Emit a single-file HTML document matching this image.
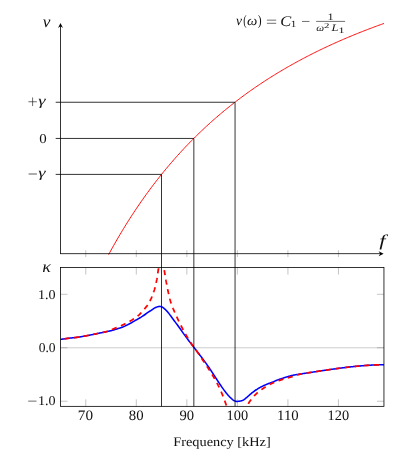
<!DOCTYPE html>
<html><head><meta charset="utf-8"><title>chart</title>
<style>
html,body{margin:0;padding:0;background:#fff;}
body{width:416px;height:462px;overflow:hidden;font-family:"Liberation Serif",serif;}
svg{display:block;}
text{font-family:"Liberation Serif",serif;fill:#111;}
</style></head><body>
<svg width="416" height="462" viewBox="0 0 416 462">
<rect width="416" height="462" fill="#fff"/>
<defs><clipPath id="cl"><rect x="60.5" y="267.55" width="323.45" height="138.8"/></clipPath></defs>

<!-- lower plot: grid, ticks -->
<path d="M60.5,347.77 H383.95" stroke="#bcbcbc" stroke-width="0.75" fill="none"/>
<g stroke="#808080" stroke-width="0.46" fill="none"><path d="M85.77,267.55 v7"/><path d="M85.77,406.35 v-7"/><path d="M136.31,267.55 v7"/><path d="M136.31,406.35 v-7"/><path d="M186.85,267.55 v7"/><path d="M186.85,406.35 v-7"/><path d="M237.39,267.55 v7"/><path d="M237.39,406.35 v-7"/><path d="M287.93,267.55 v7"/><path d="M287.93,406.35 v-7"/><path d="M338.46,267.55 v7"/><path d="M338.46,406.35 v-7"/><path d="M60.5,294.30 h7"/><path d="M383.95,294.30 h-7"/><path d="M60.5,347.77 h7"/><path d="M383.95,347.77 h-7"/><path d="M60.5,401.24 h7"/><path d="M383.95,401.24 h-7"/><path d="M85.77,250.25 V257.05"/><path d="M136.31,250.25 V257.05"/><path d="M186.85,250.25 V257.05"/><path d="M237.39,250.25 V257.05"/><path d="M287.93,250.25 V257.05"/><path d="M338.46,250.25 V257.05"/></g>
<g clip-path="url(#cl)" fill="none">
<path d="M60.50,339.41 L60.86,339.36 L61.22,339.30 L61.58,339.24 L61.94,339.19 L62.30,339.13 L62.66,339.08 L63.02,339.03 L63.38,338.97 L63.74,338.92 L64.10,338.87 L64.46,338.82 L64.82,338.77 L65.18,338.72 L65.54,338.67 L65.90,338.63 L66.26,338.58 L66.62,338.53 L66.98,338.48 L67.34,338.44 L67.70,338.39 L68.06,338.35 L68.42,338.30 L68.78,338.26 L69.14,338.21 L69.50,338.17 L69.86,338.13 L70.22,338.09 L70.58,338.04 L70.94,338.00 L71.30,337.96 L71.66,337.93 L72.02,337.89 L72.37,337.85 L72.73,337.81 L73.09,337.77 L73.45,337.74 L73.81,337.70 L74.17,337.66 L74.53,337.63 L74.89,337.59 L75.25,337.55 L75.61,337.51 L75.97,337.47 L76.33,337.43 L76.69,337.39 L77.05,337.34 L77.41,337.30 L77.77,337.26 L78.13,337.21 L78.49,337.16 L78.85,337.11 L79.21,337.05 L79.57,336.99 L79.93,336.93 L80.29,336.87 L80.65,336.81 L81.01,336.74 L81.37,336.68 L81.73,336.61 L82.09,336.54 L82.45,336.48 L82.81,336.41 L83.17,336.34 L83.53,336.27 L83.89,336.20 L84.25,336.13 L84.61,336.07 L84.97,336.00 L85.33,335.94 L85.69,335.87 L86.05,335.81 L86.41,335.74 L86.77,335.67 L87.13,335.61 L87.49,335.54 L87.85,335.47 L88.21,335.40 L88.57,335.34 L88.93,335.27 L89.29,335.20 L89.65,335.13 L90.01,335.06 L90.37,334.99 L90.73,334.92 L91.09,334.85 L91.45,334.78 L91.81,334.71 L92.17,334.64 L92.53,334.57 L92.89,334.50 L93.25,334.43 L93.61,334.35 L93.97,334.28 L94.33,334.20 L94.69,334.13 L95.05,334.05 L95.40,333.97 L95.76,333.90 L96.12,333.82 L96.48,333.74 L96.84,333.67 L97.20,333.59 L97.56,333.51 L97.92,333.43 L98.28,333.36 L98.64,333.28 L99.00,333.21 L99.36,333.13 L99.72,333.06 L100.08,332.99 L100.44,332.91 L100.80,332.84 L101.16,332.77 L101.52,332.70 L101.88,332.63 L102.24,332.55 L102.60,332.48 L102.96,332.41 L103.32,332.33 L103.68,332.26 L104.04,332.19 L104.40,332.11 L104.76,332.03 L105.12,331.96 L105.48,331.88 L105.84,331.80 L106.20,331.72 L106.56,331.64 L106.92,331.57 L107.28,331.49 L107.64,331.42 L108.00,331.34 L108.36,331.27 L108.72,331.19 L109.08,331.12 L109.44,331.04 L109.80,330.96 L110.16,330.88 L110.52,330.80 L110.88,330.71 L111.24,330.63 L111.60,330.53 L111.96,330.44 L112.32,330.34 L112.68,330.24 L113.04,330.14 L113.40,330.03 L113.76,329.93 L114.12,329.82 L114.48,329.71 L114.84,329.60 L115.20,329.48 L115.56,329.37 L115.92,329.26 L116.28,329.14 L116.64,329.02 L117.00,328.91 L117.36,328.79 L117.72,328.67 L118.08,328.56 L118.43,328.45 L118.79,328.34 L119.15,328.23 L119.51,328.13 L119.87,328.02 L120.23,327.91 L120.59,327.80 L120.95,327.69 L121.31,327.57 L121.67,327.45 L122.03,327.32 L122.39,327.19 L122.75,327.04 L123.11,326.89 L123.47,326.74 L123.83,326.57 L124.19,326.41 L124.55,326.25 L124.91,326.08 L125.27,325.91 L125.63,325.74 L125.99,325.57 L126.35,325.40 L126.71,325.22 L127.07,325.04 L127.43,324.86 L127.79,324.68 L128.15,324.50 L128.51,324.31 L128.87,324.13 L129.23,323.94 L129.59,323.75 L129.95,323.56 L130.31,323.36 L130.67,323.16 L131.03,322.96 L131.39,322.75 L131.75,322.54 L132.11,322.33 L132.47,322.11 L132.83,321.90 L133.19,321.68 L133.55,321.47 L133.91,321.26 L134.27,321.05 L134.63,320.84 L134.99,320.64 L135.35,320.44 L135.71,320.24 L136.07,320.04 L136.43,319.85 L136.79,319.65 L137.15,319.45 L137.51,319.25 L137.87,319.05 L138.23,318.85 L138.59,318.64 L138.95,318.43 L139.31,318.22 L139.67,318.00 L140.03,317.78 L140.39,317.56 L140.75,317.34 L141.11,317.12 L141.46,316.89 L141.82,316.66 L142.18,316.44 L142.54,316.20 L142.90,315.97 L143.26,315.74 L143.62,315.50 L143.98,315.26 L144.34,315.01 L144.70,314.76 L145.06,314.51 L145.42,314.26 L145.78,314.00 L146.14,313.74 L146.50,313.47 L146.86,313.21 L147.22,312.94 L147.58,312.68 L147.94,312.42 L148.30,312.17 L148.66,311.93 L149.02,311.69 L149.38,311.47 L149.74,311.24 L150.10,311.02 L150.46,310.80 L150.82,310.57 L151.18,310.33 L151.54,310.08 L151.90,309.82 L152.26,309.55 L152.62,309.28 L152.98,309.02 L153.34,308.77 L153.70,308.53 L154.06,308.31 L154.42,308.11 L154.78,307.92 L155.14,307.74 L155.50,307.58 L155.86,307.42 L156.22,307.28 L156.58,307.14 L156.94,307.01 L157.30,306.88 L157.66,306.75 L158.02,306.63 L158.38,306.53 L158.74,306.45 L159.10,306.40 L159.46,306.39 L159.82,306.41 L160.18,306.44 L160.54,306.50 L160.90,306.58 L161.26,306.69 L161.62,306.83 L161.98,306.99 L162.34,307.19 L162.70,307.42 L163.06,307.67 L163.42,307.92 L163.78,308.20 L164.14,308.49 L164.49,308.79 L164.85,309.10 L165.21,309.43 L165.57,309.77 L165.93,310.12 L166.29,310.48 L166.65,310.86 L167.01,311.24 L167.37,311.63 L167.73,312.04 L168.09,312.45 L168.45,312.89 L168.81,313.35 L169.17,313.84 L169.53,314.33 L169.89,314.84 L170.25,315.34 L170.61,315.83 L170.97,316.32 L171.33,316.79 L171.69,317.28 L172.05,317.76 L172.41,318.25 L172.77,318.74 L173.13,319.22 L173.49,319.71 L173.85,320.20 L174.21,320.68 L174.57,321.17 L174.93,321.66 L175.29,322.14 L175.65,322.63 L176.01,323.11 L176.37,323.60 L176.73,324.09 L177.09,324.58 L177.45,325.07 L177.81,325.56 L178.17,326.05 L178.53,326.54 L178.89,327.03 L179.25,327.53 L179.61,328.03 L179.97,328.53 L180.33,329.03 L180.69,329.54 L181.05,330.04 L181.41,330.55 L181.77,331.06 L182.13,331.58 L182.49,332.09 L182.85,332.60 L183.21,333.11 L183.57,333.61 L183.93,334.12 L184.29,334.62 L184.65,335.11 L185.01,335.61 L185.37,336.10 L185.73,336.59 L186.09,337.08 L186.45,337.57 L186.81,338.06 L187.17,338.54 L187.53,339.02 L187.88,339.50 L188.24,339.98 L188.60,340.46 L188.96,340.93 L189.32,341.41 L189.68,341.88 L190.04,342.35 L190.40,342.82 L190.76,343.29 L191.12,343.76 L191.48,344.23 L191.84,344.70 L192.20,345.16 L192.56,345.63 L192.92,346.09 L193.28,346.56 L193.64,347.02 L194.00,347.49 L194.36,347.95 L194.72,348.42 L195.08,348.88 L195.44,349.34 L195.80,349.81 L196.16,350.27 L196.52,350.74 L196.88,351.20 L197.24,351.67 L197.60,352.13 L197.96,352.60 L198.32,353.07 L198.68,353.53 L199.04,354.00 L199.40,354.47 L199.76,354.94 L200.12,355.41 L200.48,355.89 L200.84,356.36 L201.20,356.83 L201.56,357.31 L201.92,357.79 L202.28,358.27 L202.64,358.75 L203.00,359.23 L203.36,359.72 L203.72,360.20 L204.08,360.69 L204.44,361.18 L204.80,361.67 L205.16,362.17 L205.52,362.66 L205.88,363.16 L206.24,363.66 L206.60,364.17 L206.96,364.67 L207.32,365.18 L207.68,365.69 L208.04,366.21 L208.40,366.72 L208.76,367.24 L209.12,367.77 L209.48,368.29 L209.84,368.82 L210.20,369.35 L210.56,369.89 L210.91,370.43 L211.27,370.97 L211.63,371.52 L211.99,372.06 L212.35,372.61 L212.71,373.16 L213.07,373.71 L213.43,374.27 L213.79,374.82 L214.15,375.38 L214.51,375.93 L214.87,376.49 L215.23,377.05 L215.59,377.60 L215.95,378.16 L216.31,378.72 L216.67,379.27 L217.03,379.83 L217.39,380.38 L217.75,380.93 L218.11,381.48 L218.47,382.03 L218.83,382.58 L219.19,383.12 L219.55,383.66 L219.91,384.20 L220.27,384.74 L220.63,385.27 L220.99,385.80 L221.35,386.32 L221.71,386.85 L222.07,387.36 L222.43,387.88 L222.79,388.38 L223.15,388.89 L223.51,389.39 L223.87,389.88 L224.23,390.37 L224.59,390.85 L224.95,391.32 L225.31,391.79 L225.67,392.26 L226.03,392.71 L226.39,393.16 L226.75,393.60 L227.11,394.04 L227.47,394.46 L227.83,394.88 L228.19,395.29 L228.55,395.70 L228.91,396.09 L229.27,396.47 L229.63,396.85 L229.99,397.21 L230.35,397.56 L230.71,397.91 L231.07,398.25 L231.43,398.59 L231.79,398.91 L232.15,399.22 L232.51,399.51 L232.87,399.78 L233.23,400.04 L233.59,400.28 L233.94,400.50 L234.30,400.70 L234.66,400.87 L235.02,401.02 L235.38,401.15 L235.74,401.25 L236.10,401.33 L236.46,401.38 L236.82,401.42 L237.18,401.43 L237.54,401.41 L237.90,401.38 L238.26,401.33 L238.62,401.28 L238.98,401.24 L239.34,401.19 L239.70,401.14 L240.06,401.08 L240.42,401.02 L240.78,400.95 L241.14,400.87 L241.50,400.78 L241.86,400.67 L242.22,400.54 L242.58,400.40 L242.94,400.23 L243.30,400.04 L243.66,399.83 L244.02,399.59 L244.38,399.33 L244.74,399.06 L245.10,398.78 L245.46,398.50 L245.82,398.21 L246.18,397.91 L246.54,397.60 L246.90,397.29 L247.26,396.98 L247.62,396.67 L247.98,396.35 L248.34,396.03 L248.70,395.70 L249.06,395.38 L249.42,395.06 L249.78,394.74 L250.14,394.42 L250.50,394.11 L250.86,393.80 L251.22,393.49 L251.58,393.20 L251.94,392.90 L252.30,392.62 L252.66,392.33 L253.02,392.06 L253.38,391.79 L253.74,391.52 L254.10,391.26 L254.46,391.00 L254.82,390.74 L255.18,390.49 L255.54,390.24 L255.90,390.00 L256.26,389.76 L256.62,389.52 L256.97,389.29 L257.33,389.06 L257.69,388.83 L258.05,388.61 L258.41,388.39 L258.77,388.18 L259.13,387.97 L259.49,387.76 L259.85,387.56 L260.21,387.36 L260.57,387.16 L260.93,386.97 L261.29,386.79 L261.65,386.60 L262.01,386.43 L262.37,386.25 L262.73,386.08 L263.09,385.91 L263.45,385.74 L263.81,385.57 L264.17,385.41 L264.53,385.25 L264.89,385.09 L265.25,384.93 L265.61,384.78 L265.97,384.62 L266.33,384.47 L266.69,384.32 L267.05,384.17 L267.41,384.02 L267.77,383.87 L268.13,383.72 L268.49,383.58 L268.85,383.44 L269.21,383.30 L269.57,383.16 L269.93,383.03 L270.29,382.89 L270.65,382.76 L271.01,382.63 L271.37,382.50 L271.73,382.37 L272.09,382.24 L272.45,382.11 L272.81,381.98 L273.17,381.83 L273.53,381.68 L273.89,381.53 L274.25,381.37 L274.61,381.22 L274.97,381.06 L275.33,380.90 L275.69,380.74 L276.05,380.58 L276.41,380.43 L276.77,380.28 L277.13,380.14 L277.49,380.00 L277.85,379.87 L278.21,379.74 L278.57,379.61 L278.93,379.48 L279.29,379.36 L279.65,379.23 L280.01,379.11 L280.36,378.99 L280.72,378.87 L281.08,378.75 L281.44,378.64 L281.80,378.52 L282.16,378.40 L282.52,378.29 L282.88,378.17 L283.24,378.06 L283.60,377.94 L283.96,377.82 L284.32,377.71 L284.68,377.59 L285.04,377.47 L285.40,377.35 L285.76,377.24 L286.12,377.12 L286.48,377.01 L286.84,376.90 L287.20,376.78 L287.56,376.67 L287.92,376.57 L288.28,376.46 L288.64,376.36 L289.00,376.26 L289.36,376.16 L289.72,376.07 L290.08,375.97 L290.44,375.88 L290.80,375.80 L291.16,375.71 L291.52,375.62 L291.88,375.53 L292.24,375.44 L292.60,375.36 L292.96,375.27 L293.32,375.19 L293.68,375.11 L294.04,375.04 L294.40,374.96 L294.76,374.89 L295.12,374.82 L295.48,374.76 L295.84,374.70 L296.20,374.64 L296.56,374.58 L296.92,374.53 L297.28,374.47 L297.64,374.41 L298.00,374.36 L298.36,374.30 L298.72,374.25 L299.08,374.19 L299.44,374.14 L299.80,374.08 L300.16,374.03 L300.52,373.97 L300.88,373.92 L301.24,373.86 L301.60,373.81 L301.96,373.75 L302.32,373.70 L302.68,373.64 L303.04,373.59 L303.39,373.54 L303.75,373.48 L304.11,373.43 L304.47,373.37 L304.83,373.32 L305.19,373.26 L305.55,373.21 L305.91,373.15 L306.27,373.10 L306.63,373.04 L306.99,372.99 L307.35,372.93 L307.71,372.88 L308.07,372.82 L308.43,372.77 L308.79,372.71 L309.15,372.66 L309.51,372.60 L309.87,372.55 L310.23,372.49 L310.59,372.44 L310.95,372.38 L311.31,372.33 L311.67,372.27 L312.03,372.22 L312.39,372.16 L312.75,372.11 L313.11,372.05 L313.47,372.00 L313.83,371.94 L314.19,371.89 L314.55,371.83 L314.91,371.78 L315.27,371.73 L315.63,371.67 L315.99,371.62 L316.35,371.56 L316.71,371.51 L317.07,371.45 L317.43,371.40 L317.79,371.34 L318.15,371.29 L318.51,371.23 L318.87,371.18 L319.23,371.12 L319.59,371.07 L319.95,371.02 L320.31,370.96 L320.67,370.91 L321.03,370.85 L321.39,370.80 L321.75,370.75 L322.11,370.69 L322.47,370.64 L322.83,370.58 L323.19,370.53 L323.55,370.48 L323.91,370.42 L324.27,370.37 L324.63,370.32 L324.99,370.26 L325.35,370.21 L325.71,370.16 L326.07,370.11 L326.42,370.05 L326.78,370.00 L327.14,369.95 L327.50,369.90 L327.86,369.84 L328.22,369.79 L328.58,369.74 L328.94,369.69 L329.30,369.64 L329.66,369.58 L330.02,369.53 L330.38,369.48 L330.74,369.43 L331.10,369.38 L331.46,369.33 L331.82,369.28 L332.18,369.23 L332.54,369.18 L332.90,369.13 L333.26,369.07 L333.62,369.02 L333.98,368.97 L334.34,368.92 L334.70,368.88 L335.06,368.83 L335.42,368.78 L335.78,368.73 L336.14,368.68 L336.50,368.63 L336.86,368.58 L337.22,368.53 L337.58,368.48 L337.94,368.44 L338.30,368.39 L338.66,368.34 L339.02,368.29 L339.38,368.25 L339.74,368.20 L340.10,368.15 L340.46,368.11 L340.82,368.06 L341.18,368.01 L341.54,367.97 L341.90,367.92 L342.26,367.87 L342.62,367.83 L342.98,367.78 L343.34,367.74 L343.70,367.69 L344.06,367.65 L344.42,367.61 L344.78,367.56 L345.14,367.52 L345.50,367.47 L345.86,367.43 L346.22,367.39 L346.58,367.34 L346.94,367.30 L347.30,367.26 L347.66,367.22 L348.02,367.18 L348.38,367.13 L348.74,367.09 L349.10,367.05 L349.45,367.01 L349.81,366.97 L350.17,366.93 L350.53,366.89 L350.89,366.85 L351.25,366.81 L351.61,366.77 L351.97,366.73 L352.33,366.69 L352.69,366.65 L353.05,366.62 L353.41,366.58 L353.77,366.54 L354.13,366.50 L354.49,366.47 L354.85,366.43 L355.21,366.39 L355.57,366.36 L355.93,366.32 L356.29,366.29 L356.65,366.25 L357.01,366.22 L357.37,366.18 L357.73,366.15 L358.09,366.11 L358.45,366.08 L358.81,366.05 L359.17,366.02 L359.53,365.98 L359.89,365.95 L360.25,365.92 L360.61,365.89 L360.97,365.86 L361.33,365.83 L361.69,365.79 L362.05,365.76 L362.41,365.74 L362.77,365.71 L363.13,365.68 L363.49,365.65 L363.85,365.62 L364.21,365.59 L364.57,365.56 L364.93,365.54 L365.29,365.51 L365.65,365.48 L366.01,365.46 L366.37,365.43 L366.73,365.41 L367.09,365.38 L367.45,365.36 L367.81,365.33 L368.17,365.31 L368.53,365.29 L368.89,365.26 L369.25,365.24 L369.61,365.22 L369.97,365.20 L370.33,365.17 L370.69,365.15 L371.05,365.13 L371.41,365.11 L371.77,365.09 L372.13,365.07 L372.48,365.05 L372.84,365.04 L373.20,365.02 L373.56,365.00 L373.92,364.98 L374.28,364.97 L374.64,364.95 L375.00,364.93 L375.36,364.92 L375.72,364.90 L376.08,364.89 L376.44,364.88 L376.80,364.86 L377.16,364.85 L377.52,364.84 L377.88,364.82 L378.24,364.81 L378.60,364.80 L378.96,364.79 L379.32,364.78 L379.68,364.77 L380.04,364.76 L380.40,364.75 L380.76,364.74 L381.12,364.73 L381.48,364.73 L381.84,364.72 L382.20,364.71 L382.56,364.71 L382.92,364.70 L383.28,364.70 L383.64,364.69 L384.00,364.69" stroke="#0000ff" stroke-width="1.55" stroke-linejoin="round"/>
<g stroke="#ff0000" stroke-width="1.75" stroke-dasharray="5.1 4.60">
<path d="M60.50,339.41 L60.74,339.37 L60.97,339.34 L61.21,339.30 L61.45,339.26 L61.68,339.23 L61.92,339.19 L62.16,339.16 L62.39,339.12 L62.63,339.08 L62.87,339.05 L63.11,339.01 L63.34,338.98 L63.58,338.95 L63.82,338.91 L64.05,338.88 L64.29,338.85 L64.53,338.81 L64.77,338.78 L65.00,338.75 L65.24,338.71 L65.48,338.68 L65.72,338.65 L65.95,338.62 L66.19,338.59 L66.43,338.56 L66.67,338.52 L66.90,338.49 L67.14,338.46 L67.38,338.43 L67.62,338.40 L67.85,338.37 L68.09,338.34 L68.33,338.31 L68.57,338.28 L68.80,338.26 L69.04,338.23 L69.28,338.20 L69.52,338.17 L69.76,338.14 L69.99,338.11 L70.23,338.08 L70.47,338.06 L70.71,338.03 L70.95,338.00 L71.18,337.98 L71.42,337.95 L71.66,337.92 L71.90,337.90 L72.14,337.87 L72.37,337.85 L72.61,337.82 L72.85,337.80 L73.09,337.77 L73.33,337.75 L73.57,337.73 L73.80,337.70 L74.04,337.68 L74.28,337.65 L74.52,337.63 L74.76,337.60 L75.00,337.58 L75.23,337.55 L75.47,337.53 L75.71,337.50 L75.95,337.47 L76.19,337.45 L76.42,337.42 L76.66,337.39 L76.90,337.36 L77.14,337.33 L77.38,337.31 L77.61,337.28 L77.85,337.24 L78.09,337.21 L78.33,337.18 L78.56,337.15 L78.80,337.11 L79.04,337.08 L79.27,337.04 L79.51,337.00 L79.75,336.96 L79.98,336.92 L80.22,336.88 L80.46,336.84 L80.69,336.80 L80.93,336.76 L81.16,336.72 L81.40,336.67 L81.63,336.63 L81.87,336.58 L82.11,336.54 L82.34,336.50 L82.58,336.45 L82.81,336.41 L83.05,336.36 L83.28,336.32 L83.52,336.27 L83.75,336.23 L83.99,336.18 L84.22,336.14 L84.46,336.10 L84.70,336.05 L84.93,336.01 L85.17,335.97 L85.40,335.92 L85.64,335.88 L85.87,335.84 L86.11,335.80 L86.35,335.75 L86.58,335.71 L86.82,335.67 L87.05,335.62 L87.29,335.58 L87.52,335.53 L87.76,335.49 L87.99,335.45 L88.23,335.40 L88.46,335.36 L88.70,335.31 L88.94,335.27 L89.17,335.22 L89.41,335.18 L89.64,335.13 L89.88,335.09 L90.11,335.04 L90.35,335.00 L90.58,334.95 L90.82,334.90 L91.05,334.86 L91.29,334.81 L91.52,334.77 L91.76,334.72 L91.99,334.68 L92.23,334.63 L92.46,334.58 L92.70,334.54 L92.93,334.49 L93.17,334.44 L93.40,334.39 L93.64,334.35 L93.87,334.30 L94.11,334.25 L94.34,334.20 L94.58,334.15 L94.81,334.10 L95.04,334.05 L95.28,334.00 L95.51,333.95 L95.75,333.90 L95.98,333.85 L96.22,333.80 L96.45,333.75 L96.68,333.70 L96.92,333.65 L97.15,333.60 L97.39,333.55 L97.62,333.50 L97.86,333.45 L98.09,333.40 L98.32,333.35 L98.56,333.30 L98.79,333.25 L99.03,333.20 L99.26,333.15 L99.50,333.11 L99.73,333.06 L99.97,333.01 L100.20,332.96 L100.44,332.92 L100.67,332.87 L100.91,332.82 L101.14,332.77 L101.38,332.73 L101.61,332.68 L101.85,332.63 L102.08,332.59 L102.32,332.54 L102.55,332.49 L102.79,332.44 L103.02,332.40 L103.26,332.35 L103.49,332.30 L103.72,332.25 L103.96,332.19 L104.19,332.14 L104.42,332.08 L104.66,332.03 L104.89,331.97 L105.12,331.91 L105.36,331.85 L105.59,331.79 L105.82,331.73 L106.05,331.67 L106.28,331.61 L106.51,331.54 L106.74,331.48 L106.97,331.41 L107.20,331.34 L107.43,331.27 L107.66,331.20 L107.89,331.13 L108.11,331.06 L108.34,330.98 L108.57,330.90 L108.79,330.82 L109.01,330.73 L109.24,330.65 L109.46,330.56 L109.68,330.47 L109.90,330.38 L110.12,330.29 L110.35,330.19 L110.57,330.10 L110.79,330.00 L111.01,329.91 L111.23,329.81 L111.45,329.71 L111.67,329.62 L111.89,329.52 L112.11,329.43 L112.33,329.33 L112.55,329.24 L112.77,329.15 L112.99,329.05 L113.21,328.96 L113.44,328.87 L113.66,328.78 L113.88,328.69 L114.10,328.60 L114.32,328.51 L114.54,328.42 L114.76,328.33 L114.99,328.23 L115.21,328.14 L115.43,328.05 L115.65,327.96 L115.87,327.87 L116.09,327.78 L116.31,327.68 L116.54,327.59 L116.76,327.50 L116.98,327.41 L117.20,327.31 L117.42,327.22 L117.64,327.13 L117.86,327.04 L118.08,326.94 L118.30,326.85 L118.52,326.75 L118.74,326.66 L118.96,326.57 L119.18,326.47 L119.40,326.38 L119.62,326.28 L119.84,326.19 L120.07,326.10 L120.29,326.00 L120.51,325.91 L120.73,325.81 L120.95,325.72 L121.17,325.63 L121.39,325.53 L121.61,325.44 L121.83,325.34 L122.05,325.24 L122.27,325.15 L122.49,325.05 L122.71,324.95 L122.92,324.85 L123.14,324.76 L123.36,324.66 L123.58,324.56 L123.79,324.45 L124.01,324.35 L124.23,324.25 L124.44,324.14 L124.66,324.04 L124.87,323.93 L125.08,323.83 L125.30,323.72 L125.51,323.61 L125.73,323.51 L125.94,323.40 L126.16,323.29 L126.37,323.18 L126.58,323.07 L126.80,322.96 L127.01,322.85 L127.22,322.74 L127.43,322.63 L127.65,322.51 L127.86,322.40 L128.07,322.29 L128.28,322.17 L128.49,322.06 L128.70,321.94 L128.91,321.82 L129.12,321.71 L129.33,321.59 L129.54,321.47 L129.75,321.35 L129.95,321.23 L130.16,321.11 L130.37,320.99 L130.57,320.87 L130.78,320.75 L130.98,320.62 L131.19,320.50 L131.39,320.37 L131.59,320.25 L131.80,320.12 L132.00,320.00 L132.20,319.87 L132.40,319.74 L132.61,319.61 L132.81,319.48 L133.01,319.36 L133.21,319.22 L133.41,319.09 L133.62,318.96 L133.82,318.83 L134.02,318.70 L134.22,318.56 L134.42,318.43 L134.62,318.29 L134.81,318.16 L135.01,318.02 L135.21,317.88 L135.41,317.74 L135.60,317.60 L135.80,317.46 L135.99,317.32 L136.19,317.18 L136.38,317.04 L136.58,316.89 L136.77,316.75 L136.96,316.60 L137.15,316.46 L137.34,316.31 L137.53,316.16 L137.71,316.01 L137.90,315.86 L138.08,315.71 L138.27,315.56 L138.45,315.41 L138.63,315.26 L138.81,315.10 L138.99,314.95 L139.17,314.79 L139.35,314.63 L139.52,314.46 L139.69,314.30 L139.86,314.13 L140.03,313.96 L140.20,313.79 L140.37,313.61 L140.53,313.44 L140.70,313.26 L140.86,313.09 L141.03,312.91 L141.19,312.74 L141.35,312.56 L141.52,312.39 L141.68,312.21 L141.84,312.04 L142.00,311.86 L142.16,311.68 L142.32,311.50 L142.48,311.32 L142.64,311.14 L142.79,310.96 L142.95,310.78 L143.11,310.60 L143.26,310.41 L143.42,310.23 L143.58,310.05 L143.73,309.87 L143.89,309.68 L144.04,309.50 L144.20,309.32 L144.35,309.14 L144.51,308.95 L144.66,308.77 L144.81,308.59 L144.97,308.40 L145.12,308.22 L145.27,308.03 L145.42,307.85 L145.58,307.66 L145.73,307.48 L145.88,307.29 L146.03,307.10 L146.18,306.92 L146.32,306.73 L146.47,306.54 L146.62,306.35 L146.77,306.16 L146.92,305.97 L147.06,305.78 L147.20,305.59 L147.34,305.39 L147.48,305.20 L147.61,305.00 L147.74,304.80 L147.87,304.60 L148.00,304.40 L148.13,304.19 L148.25,303.99 L148.38,303.78 L148.50,303.58 L148.62,303.37 L148.74,303.16 L148.86,302.95 L148.98,302.75 L149.10,302.54 L149.22,302.33 L149.33,302.12 L149.45,301.91 L149.56,301.70 L149.68,301.49 L149.79,301.28 L149.90,301.06 L150.01,300.85 L150.12,300.64 L150.22,300.42 L150.33,300.21 L150.43,299.99 L150.54,299.78 L150.64,299.56 L150.75,299.35 L150.86,299.13 L150.96,298.91 L151.06,298.70 L151.17,298.48 L151.27,298.26 L151.37,298.05 L151.47,297.83 L151.57,297.61 L151.67,297.39 L151.77,297.17 L151.86,296.95 L151.95,296.73 L152.04,296.51 L152.13,296.29 L152.22,296.07 L152.30,295.84 L152.39,295.62 L152.47,295.39 L152.55,295.17 L152.63,294.94 L152.71,294.72 L152.79,294.49 L152.86,294.26 L152.94,294.04 L153.02,293.81 L153.09,293.58 L153.17,293.35 L153.25,293.13 L153.32,292.90 L153.40,292.67 L153.48,292.45 L153.56,292.22 L153.63,291.99 L153.71,291.76 L153.79,291.54 L153.87,291.31 L153.94,291.08 L154.02,290.86 L154.10,290.63 L154.17,290.40 L154.25,290.17 L154.32,289.95 L154.40,289.72 L154.47,289.49 L154.55,289.26 L154.62,289.03 L154.69,288.80 L154.76,288.57 L154.83,288.35 L154.90,288.12 L154.96,287.89 L155.03,287.66 L155.09,287.43 L155.15,287.19 L155.21,286.96 L155.27,286.73 L155.32,286.50 L155.38,286.27 L155.43,286.03 L155.48,285.80 L155.53,285.56 L155.58,285.33 L155.63,285.09 L155.68,284.86 L155.73,284.62 L155.78,284.39 L155.83,284.15 L155.87,283.92 L155.92,283.69 L155.97,283.45 L156.02,283.22 L156.07,282.98 L156.12,282.75 L156.17,282.51 L156.22,282.28 L156.27,282.05 L156.33,281.81 L156.38,281.58 L156.43,281.34 L156.48,281.11 L156.52,280.87 L156.57,280.64 L156.62,280.40 L156.67,280.17 L156.72,279.93 L156.77,279.70 L156.81,279.46 L156.86,279.23 L156.90,278.99 L156.95,278.76 L156.99,278.52 L157.03,278.29 L157.07,278.05 L157.12,277.82 L157.15,277.58 L157.19,277.34 L157.23,277.11 L157.27,276.87 L157.30,276.63 L157.33,276.40 L157.36,276.16 L157.40,275.92 L157.43,275.68 L157.46,275.45 L157.49,275.21 L157.52,274.97 L157.55,274.73 L157.58,274.49 L157.61,274.26 L157.64,274.02 L157.67,273.78 L157.71,273.54 L157.74,273.31 L157.78,273.07 L157.82,272.83 L157.85,272.60 L157.89,272.36 L157.93,272.12 L157.97,271.89 L158.01,271.65 L158.05,271.41 L158.09,271.18 L158.13,270.94 L158.17,270.71 L158.21,270.47 L158.25,270.23 L158.29,270.00 L158.33,269.76 L158.36,269.52 L158.40,269.29 L158.44,269.05 L158.48,268.81 L158.51,268.58 L158.55,268.34 L158.58,268.10 L158.61,267.87 L158.65,267.63 L158.68,267.39 L158.71,267.15 L158.73,266.92 L158.76,266.68 L158.79,266.44 L158.82,266.20 L158.85,265.97 L158.87,265.73 L158.90,265.49 L158.93,265.25 L158.95,265.01 L158.98,264.78 L159.00,264.54 L159.03,264.30 L159.05,264.06 L159.08,263.82 L159.10,263.58 L159.12,263.35 L159.15,263.11 L159.17,262.87 L159.19,262.63 L159.21,262.39 L159.23,262.15 L159.25,261.91 L159.27,261.67 L159.29,261.44 L159.31,261.20 L159.33,260.96 L159.35,260.72 L159.37,260.48 L159.38,260.24 L159.40,260.00" stroke-dashoffset="5.64"/><path d="M163.20,260.00 L163.23,260.42 L163.26,260.83 L163.29,261.25 L163.32,261.67 L163.36,262.08 L163.39,262.50 L163.43,262.91 L163.47,263.33 L163.51,263.74 L163.55,264.16 L163.59,264.57 L163.63,264.99 L163.68,265.40 L163.72,265.82 L163.77,266.23 L163.82,266.65 L163.86,267.06 L163.91,267.47 L163.96,267.89 L164.01,268.30 L164.06,268.72 L164.12,269.13 L164.18,269.54 L164.23,269.95 L164.30,270.37 L164.36,270.78 L164.43,271.19 L164.50,271.60 L164.56,272.01 L164.63,272.43 L164.70,272.84 L164.77,273.25 L164.84,273.66 L164.91,274.07 L164.98,274.48 L165.05,274.89 L165.12,275.31 L165.18,275.72 L165.25,276.13 L165.32,276.54 L165.39,276.95 L165.46,277.36 L165.53,277.77 L165.60,278.19 L165.67,278.60 L165.74,279.01 L165.81,279.42 L165.88,279.83 L165.95,280.24 L166.03,280.65 L166.10,281.06 L166.17,281.47 L166.24,281.88 L166.32,282.29 L166.39,282.70 L166.47,283.11 L166.54,283.52 L166.61,283.93 L166.69,284.35 L166.76,284.76 L166.84,285.17 L166.91,285.58 L166.99,285.99 L167.07,286.40 L167.14,286.81 L167.22,287.22 L167.30,287.62 L167.39,288.03 L167.47,288.44 L167.55,288.85 L167.64,289.26 L167.73,289.67 L167.81,290.07 L167.90,290.48 L167.99,290.89 L168.08,291.30 L168.17,291.70 L168.26,292.11 L168.35,292.52 L168.45,292.92 L168.54,293.33 L168.63,293.74 L168.72,294.14 L168.82,294.55 L168.91,294.96 L169.01,295.36 L169.10,295.77 L169.20,296.17 L169.30,296.58 L169.40,296.99 L169.50,297.39 L169.60,297.80 L169.70,298.20 L169.80,298.60 L169.90,299.01 L170.01,299.41 L170.11,299.82 L170.22,300.22 L170.33,300.62 L170.44,301.03 L170.55,301.43 L170.67,301.83 L170.79,302.23 L170.91,302.63 L171.03,303.02 L171.15,303.42 L171.28,303.82 L171.41,304.22 L171.55,304.61 L171.68,305.01 L171.82,305.40 L171.96,305.79 L172.11,306.18 L172.25,306.57 L172.41,306.96 L172.56,307.34 L172.72,307.73 L172.89,308.11 L173.05,308.50 L173.22,308.88 L173.39,309.26 L173.56,309.64 L173.73,310.02 L173.90,310.41 L174.07,310.79 L174.24,311.17 L174.41,311.55 L174.57,311.93 L174.74,312.31 L174.91,312.70 L175.08,313.08 L175.25,313.46 L175.41,313.84 L175.58,314.22 L175.75,314.60 L175.92,314.98 L176.09,315.36 L176.26,315.75 L176.44,316.13 L176.61,316.51 L176.78,316.88 L176.95,317.26 L177.13,317.64 L177.30,318.02 L177.48,318.40 L177.66,318.78 L177.83,319.15 L178.01,319.53 L178.19,319.91 L178.37,320.29 L178.55,320.66 L178.73,321.04 L178.91,321.41 L179.09,321.79 L179.27,322.17 L179.45,322.54 L179.64,322.92 L179.82,323.29 L180.01,323.66 L180.19,324.04 L180.38,324.41 L180.56,324.78 L180.75,325.16 L180.94,325.53 L181.13,325.90 L181.32,326.27 L181.51,326.64 L181.70,327.01 L181.89,327.38 L182.08,327.76 L182.27,328.13 L182.47,328.50 L182.66,328.86 L182.85,329.23 L183.05,329.60 L183.25,329.97 L183.44,330.34 L183.64,330.71 L183.84,331.07 L184.04,331.44 L184.24,331.81 L184.44,332.17 L184.64,332.54 L184.84,332.90 L185.04,333.27 L185.25,333.63 L185.45,333.99 L185.66,334.36 L185.86,334.72 L186.07,335.08 L186.28,335.44 L186.49,335.80 L186.69,336.17 L186.90,336.53 L187.11,336.89 L187.32,337.25 L187.54,337.61 L187.75,337.97 L187.96,338.33 L188.18,338.68 L188.39,339.04 L188.61,339.40 L188.83,339.75 L189.05,340.11 L189.27,340.46 L189.49,340.81 L189.72,341.16 L189.94,341.51 L190.17,341.86 L190.40,342.21 L190.63,342.55 L190.87,342.90 L191.10,343.24 L191.34,343.58 L191.58,343.93 L191.82,344.27 L192.07,344.61 L192.31,344.94 L192.55,345.28 L192.80,345.62 L193.04,345.96 L193.28,346.30 L193.53,346.64 L193.77,346.98 L194.01,347.32 L194.26,347.66 L194.50,348.00 L194.74,348.34 L194.98,348.68 L195.22,349.02 L195.47,349.35 L195.71,349.69 L195.96,350.03 L196.20,350.37 L196.44,350.71 L196.69,351.05 L196.93,351.39 L197.17,351.73 L197.41,352.07 L197.65,352.41 L197.89,352.75 L198.13,353.09 L198.36,353.44 L198.60,353.78 L198.83,354.13 L199.07,354.47 L199.30,354.82 L199.53,355.16 L199.76,355.51 L199.99,355.86 L200.22,356.21 L200.45,356.56 L200.68,356.90 L200.91,357.25 L201.14,357.60 L201.37,357.95 L201.59,358.30 L201.82,358.65 L202.05,359.00 L202.28,359.35 L202.51,359.70 L202.74,360.05 L202.97,360.39 L203.20,360.74 L203.43,361.09 L203.66,361.44 L203.89,361.78 L204.12,362.13 L204.35,362.48 L204.58,362.83 L204.81,363.17 L205.05,363.52 L205.28,363.86 L205.51,364.21 L205.74,364.56 L205.98,364.90 L206.21,365.25 L206.44,365.60 L206.67,365.94 L206.90,366.29 L207.14,366.64 L207.37,366.99 L207.60,367.33 L207.83,367.68 L208.06,368.03 L208.29,368.38 L208.51,368.73 L208.74,369.08 L208.97,369.43 L209.19,369.78 L209.42,370.13 L209.64,370.48 L209.87,370.83 L210.09,371.18 L210.31,371.54 L210.53,371.89 L210.75,372.24 L210.97,372.60 L211.19,372.95 L211.41,373.31 L211.63,373.66 L211.85,374.02 L212.06,374.38 L212.28,374.73 L212.50,375.09 L212.71,375.45 L212.92,375.81 L213.14,376.17 L213.35,376.53 L213.56,376.89 L213.77,377.25 L213.98,377.61 L214.18,377.97 L214.39,378.33 L214.59,378.69 L214.80,379.06 L215.00,379.42 L215.21,379.78 L215.41,380.15 L215.61,380.51 L215.82,380.88 L216.02,381.24 L216.22,381.61 L216.42,381.98 L216.61,382.35 L216.81,382.71 L217.01,383.08 L217.20,383.45 L217.39,383.82 L217.59,384.19 L217.78,384.56 L217.97,384.93 L218.15,385.31 L218.34,385.68 L218.52,386.05 L218.71,386.43 L218.89,386.80 L219.07,387.18 L219.25,387.55 L219.43,387.93 L219.61,388.31 L219.78,388.69 L219.96,389.06 L220.13,389.44 L220.31,389.82 L220.48,390.20 L220.65,390.58 L220.82,390.97 L220.99,391.35 L221.16,391.73 L221.32,392.11 L221.49,392.50 L221.65,392.88 L221.81,393.26 L221.97,393.65 L222.13,394.03 L222.29,394.42 L222.45,394.80 L222.60,395.19 L222.76,395.58 L222.91,395.97 L223.06,396.36 L223.21,396.74 L223.36,397.13 L223.51,397.52 L223.66,397.91 L223.81,398.30 L223.95,398.69 L224.10,399.09 L224.24,399.48 L224.39,399.87 L224.53,400.26 L224.67,400.65 L224.82,401.04 L224.96,401.44 L225.10,401.83 L225.24,402.22 L225.38,402.62 L225.52,403.01 L225.65,403.40 L225.79,403.80 L225.92,404.19 L226.05,404.59 L226.18,404.99 L226.31,405.38 L226.43,405.78 L226.55,406.18 L226.68,406.58 L226.80,406.98 L226.91,407.38 L227.03,407.78 L227.14,408.18 L227.26,408.58 L227.37,408.98 L227.48,409.38 L227.59,409.79 L227.69,410.19 L227.80,410.60 L227.90,411.00" stroke-dashoffset="9.28"/><path d="M246.30,411.00 L246.36,410.75 L246.43,410.50 L246.49,410.26 L246.55,410.01 L246.62,409.76 L246.68,409.51 L246.75,409.27 L246.82,409.02 L246.89,408.77 L246.96,408.52 L247.02,408.28 L247.09,408.03 L247.16,407.79 L247.24,407.54 L247.31,407.29 L247.38,407.05 L247.45,406.80 L247.52,406.56 L247.60,406.31 L247.67,406.07 L247.74,405.82 L247.81,405.57 L247.88,405.32 L247.96,405.08 L248.03,404.83 L248.11,404.58 L248.19,404.34 L248.28,404.11 L248.37,403.87 L248.47,403.64 L248.57,403.41 L248.68,403.19 L248.80,402.96 L248.92,402.74 L249.05,402.52 L249.18,402.30 L249.31,402.08 L249.45,401.86 L249.60,401.65 L249.74,401.43 L249.89,401.22 L250.04,401.01 L250.19,400.80 L250.34,400.59 L250.50,400.38 L250.65,400.17 L250.81,399.96 L250.96,399.76 L251.11,399.55 L251.27,399.35 L251.42,399.14 L251.57,398.94 L251.73,398.74 L251.89,398.54 L252.05,398.34 L252.21,398.14 L252.38,397.94 L252.54,397.75 L252.71,397.55 L252.88,397.36 L253.05,397.17 L253.22,396.98 L253.39,396.78 L253.56,396.59 L253.74,396.41 L253.91,396.22 L254.08,396.03 L254.26,395.84 L254.43,395.66 L254.61,395.47 L254.79,395.29 L254.96,395.10 L255.14,394.92 L255.32,394.74 L255.50,394.55 L255.69,394.37 L255.87,394.19 L256.05,394.01 L256.24,393.84 L256.42,393.66 L256.61,393.48 L256.80,393.31 L256.98,393.14 L257.17,392.96 L257.36,392.79 L257.56,392.62 L257.75,392.46 L257.94,392.29 L258.14,392.13 L258.33,391.97 L258.53,391.80 L258.73,391.64 L258.93,391.48 L259.13,391.33 L259.34,391.17 L259.54,391.01 L259.74,390.86 L259.95,390.70 L260.16,390.55 L260.36,390.40 L260.57,390.25 L260.78,390.09 L260.98,389.94 L261.19,389.79 L261.40,389.64 L261.61,389.50 L261.81,389.35 L262.02,389.20 L262.23,389.05 L262.44,388.91 L262.65,388.76 L262.87,388.62 L263.08,388.47 L263.29,388.33 L263.50,388.19 L263.72,388.05 L263.93,387.91 L264.15,387.77 L264.36,387.63 L264.58,387.49 L264.79,387.35 L265.01,387.22 L265.23,387.08 L265.44,386.95 L265.66,386.81 L265.88,386.68 L266.10,386.55 L266.32,386.41 L266.54,386.28 L266.76,386.15 L266.98,386.02 L267.20,385.89 L267.42,385.76 L267.64,385.63 L267.86,385.50 L268.08,385.37 L268.31,385.25 L268.53,385.12 L268.75,385.00 L268.98,384.88 L269.20,384.76 L269.43,384.64 L269.66,384.52 L269.88,384.40 L270.11,384.29 L270.34,384.17 L270.57,384.05 L270.80,383.94 L271.03,383.83 L271.26,383.72 L271.49,383.60 L271.72,383.49 L271.95,383.38 L272.18,383.28 L272.42,383.17 L272.65,383.06 L272.88,382.96 L273.12,382.85 L273.35,382.75 L273.59,382.65 L273.82,382.54 L274.06,382.44 L274.29,382.34 L274.53,382.25 L274.76,382.15 L275.00,382.05 L275.24,381.96 L275.48,381.87 L275.71,381.77 L275.95,381.68 L276.19,381.59 L276.43,381.50 L276.67,381.41 L276.91,381.32 L277.15,381.23 L277.39,381.14 L277.63,381.06 L277.88,380.97 L278.12,380.89 L278.36,380.80 L278.60,380.72 L278.84,380.63 L279.09,380.55 L279.33,380.46 L279.57,380.38 L279.81,380.30 L280.05,380.22 L280.30,380.13 L280.54,380.05 L280.78,379.97 L281.02,379.89 L281.27,379.81 L281.51,379.73 L281.75,379.65 L282.00,379.57 L282.24,379.50 L282.49,379.42 L282.73,379.34 L282.97,379.26 L283.22,379.19 L283.46,379.11 L283.71,379.04 L283.95,378.96 L284.20,378.89 L284.44,378.81 L284.69,378.74 L284.93,378.67 L285.18,378.59 L285.42,378.52 L285.67,378.45 L285.92,378.38 L286.16,378.31 L286.41,378.24 L286.65,378.17 L286.90,378.10 L287.15,378.04 L287.39,377.97 L287.64,377.90 L287.89,377.84 L288.14,377.77 L288.38,377.70 L288.63,377.64 L288.88,377.57 L289.12,377.50 L289.37,377.43 L289.62,377.36 L289.86,377.30 L290.11,377.23 L290.36,377.15 L290.60,377.08 L290.85,377.01 L291.09,376.94 L291.34,376.86 L291.58,376.79 L291.83,376.71 L292.07,376.63 L292.32,376.56 L292.56,376.48 L292.81,376.40 L293.05,376.32 L293.29,376.24 L293.54,376.17 L293.78,376.09 L294.03,376.01 L294.27,375.93 L294.51,375.85 L294.76,375.77 L295.00,375.69 L295.25,375.61 L295.49,375.54 L295.73,375.46 L295.98,375.38 L296.22,375.30 L296.47,375.23 L296.71,375.15 L296.96,375.08 L297.20,375.00 L297.45,374.93 L297.69,374.86 L297.94,374.79 L298.18,374.72 L298.43,374.65 L298.68,374.58 L298.92,374.52 L299.17,374.45 L299.42,374.39 L299.67,374.33 L299.91,374.27 L300.16,374.21 L300.41,374.15 L300.66,374.10 L300.91,374.04 L301.16,373.99 L301.41,373.93 L301.66,373.88 L301.91,373.83 L302.16,373.78 L302.41,373.73 L302.67,373.68 L302.92,373.64 L303.17,373.59 L303.42,373.54 L303.67,373.50 L303.93,373.46 L304.18,373.41 L304.43,373.38 L304.69,373.34 L304.94,373.30 L305.19,373.26 L305.44,373.22 L305.70,373.19 L305.95,373.15 L306.20,373.11 L306.46,373.07 L306.71,373.03 L306.96,372.99 L307.22,372.95 L307.47,372.92 L307.72,372.88 L307.97,372.84 L308.23,372.80 L308.48,372.76 L308.73,372.72 L308.99,372.68 L309.24,372.65 L309.49,372.61 L309.75,372.57 L310.00,372.53 L310.25,372.49 L310.51,372.45 L310.76,372.41 L311.01,372.38 L311.26,372.34 L311.52,372.30 L311.77,372.26 L312.02,372.22 L312.28,372.18 L312.53,372.14 L312.78,372.10 L313.04,372.07 L313.29,372.03 L313.54,371.99 L313.79,371.95 L314.05,371.91 L314.30,371.87 L314.55,371.83 L314.81,371.80 L315.06,371.76 L315.31,371.72 L315.57,371.68 L315.82,371.64 L316.07,371.60 L316.32,371.56 L316.58,371.53 L316.83,371.49 L317.08,371.45 L317.34,371.41 L317.59,371.37 L317.84,371.33 L318.10,371.30 L318.35,371.26 L318.60,371.22 L318.86,371.18 L319.11,371.14 L319.36,371.10 L319.61,371.07 L319.87,371.03 L320.12,370.99 L320.37,370.95 L320.63,370.91 L320.88,370.88 L321.13,370.84 L321.39,370.80 L321.64,370.76 L321.89,370.72 L322.15,370.69 L322.40,370.65 L322.65,370.61 L322.90,370.57 L323.16,370.54 L323.41,370.50 L323.66,370.46 L323.92,370.42 L324.17,370.39 L324.42,370.35 L324.68,370.31 L324.93,370.27 L325.18,370.24 L325.44,370.20 L325.69,370.16 L325.94,370.12 L326.20,370.09 L326.45,370.05 L326.70,370.01 L326.96,369.98 L327.21,369.94 L327.46,369.90 L327.72,369.86 L327.97,369.83 L328.22,369.79 L328.48,369.75 L328.73,369.72 L328.98,369.68 L329.24,369.65 L329.49,369.61 L329.74,369.57 L330.00,369.54 L330.25,369.50 L330.50,369.46 L330.76,369.43 L331.01,369.39 L331.26,369.36 L331.52,369.32 L331.77,369.28 L332.02,369.25 L332.28,369.21 L332.53,369.18 L332.78,369.14 L333.04,369.11 L333.29,369.07 L333.54,369.04 L333.80,369.00 L334.05,368.97 L334.30,368.93 L334.56,368.90 L334.81,368.86 L335.07,368.83 L335.32,368.79 L335.57,368.76 L335.83,368.72 L336.08,368.69 L336.33,368.65 L336.59,368.62 L336.84,368.58 L337.09,368.55 L337.35,368.52 L337.60,368.48 L337.86,368.45 L338.11,368.41 L338.36,368.38 L338.62,368.35 L338.87,368.31 L339.12,368.28 L339.38,368.25 L339.63,368.21 L339.89,368.18 L340.14,368.15 L340.39,368.11 L340.65,368.08 L340.90,368.05 L341.15,368.02 L341.41,367.98 L341.66,367.95 L341.92,367.92 L342.17,367.89 L342.42,367.85 L342.68,367.82 L342.93,367.79 L343.19,367.76 L343.44,367.73 L343.69,367.69 L343.95,367.66 L344.20,367.63 L344.46,367.60 L344.71,367.57 L344.96,367.54 L345.22,367.51 L345.47,367.48 L345.73,367.45 L345.98,367.42 L346.23,367.39 L346.49,367.36 L346.74,367.32 L347.00,367.29 L347.25,367.26 L347.51,367.23 L347.76,367.21 L348.01,367.18 L348.27,367.15 L348.52,367.12 L348.78,367.09 L349.03,367.06 L349.29,367.03 L349.54,367.00 L349.79,366.97 L350.05,366.94 L350.30,366.92 L350.56,366.89 L350.81,366.86 L351.07,366.83 L351.32,366.80 L351.57,366.78 L351.83,366.75 L352.08,366.72 L352.34,366.69 L352.59,366.67 L352.85,366.64 L353.10,366.61 L353.36,366.58 L353.61,366.56 L353.87,366.53 L354.12,366.51 L354.37,366.48 L354.63,366.45 L354.88,366.43 L355.14,366.40 L355.39,366.38 L355.65,366.35 L355.90,366.33 L356.16,366.30 L356.41,366.28 L356.67,366.25 L356.92,366.23 L357.18,366.20 L357.43,366.18 L357.69,366.15 L357.94,366.13 L358.20,366.11 L358.45,366.08 L358.71,366.06 L358.96,366.03 L359.21,366.01 L359.47,365.99 L359.72,365.97 L359.98,365.94 L360.23,365.92 L360.49,365.90 L360.74,365.88 L361.00,365.85 L361.25,365.83 L361.51,365.81 L361.76,365.79 L362.02,365.77 L362.27,365.75 L362.53,365.73 L362.79,365.70 L363.04,365.68 L363.30,365.66 L363.55,365.64 L363.81,365.62 L364.06,365.60 L364.32,365.58 L364.57,365.56 L364.83,365.54 L365.08,365.53 L365.34,365.51 L365.59,365.49 L365.85,365.47 L366.10,365.45 L366.36,365.43 L366.61,365.41 L366.87,365.40 L367.12,365.38 L367.38,365.36 L367.63,365.34 L367.89,365.33 L368.15,365.31 L368.40,365.29 L368.66,365.28 L368.91,365.26 L369.17,365.24 L369.42,365.23 L369.68,365.21 L369.93,365.20 L370.19,365.18 L370.44,365.17 L370.70,365.15 L370.96,365.14 L371.21,365.12 L371.47,365.11 L371.72,365.10 L371.98,365.08 L372.23,365.07 L372.49,365.05 L372.74,365.04 L373.00,365.03 L373.26,365.02 L373.51,365.00 L373.77,364.99 L374.02,364.98 L374.28,364.97 L374.53,364.96 L374.79,364.94 L375.05,364.93 L375.30,364.92 L375.56,364.91 L375.81,364.90 L376.07,364.89 L376.32,364.88 L376.58,364.87 L376.84,364.86 L377.09,364.85 L377.35,364.84 L377.60,364.83 L377.86,364.82 L378.11,364.82 L378.37,364.81 L378.63,364.80 L378.88,364.79 L379.14,364.78 L379.39,364.78 L379.65,364.77 L379.91,364.76 L380.16,364.76 L380.42,364.75 L380.67,364.74 L380.93,364.74 L381.18,364.73 L381.44,364.73 L381.70,364.72 L381.95,364.72 L382.21,364.71 L382.46,364.71 L382.72,364.70 L382.98,364.70 L383.23,364.70 L383.49,364.69 L383.74,364.69 L384.00,364.69" stroke-dashoffset="2.21"/>
</g>
</g>
<rect x="60.5" y="267.55" width="323.45" height="138.8" fill="none" stroke="#000" stroke-width="0.8"/>

<!-- upper plot -->
<path d="M108.61,254.61 L109.87,252.31 L111.13,250.03 L112.38,247.77 L113.64,245.53 L114.90,243.31 L116.16,241.12 L117.41,238.95 L118.67,236.80 L119.93,234.67 L121.19,232.56 L122.44,230.47 L123.70,228.40 L124.96,226.35 L126.21,224.32 L127.47,222.31 L128.73,220.32 L129.99,218.35 L131.24,216.40 L132.50,214.46 L133.76,212.54 L135.02,210.64 L136.27,208.76 L137.53,206.90 L138.79,205.05 L140.04,203.22 L141.30,201.41 L142.56,199.61 L143.82,197.83 L145.07,196.07 L146.33,194.32 L147.59,192.59 L148.85,190.87 L150.10,189.17 L151.36,187.49 L152.62,185.82 L153.87,184.16 L155.13,182.52 L156.39,180.90 L157.65,179.29 L158.90,177.69 L160.16,176.10 L161.42,174.53 L162.67,172.98 L163.93,171.44 L165.19,169.91 L166.45,168.39 L167.70,166.89 L168.96,165.40 L170.22,163.92 L171.48,162.46 L172.73,161.01 L173.99,159.57 L175.25,158.14 L176.50,156.73 L177.76,155.32 L179.02,153.93 L180.28,152.55 L181.53,151.19 L182.79,149.83 L184.05,148.48 L185.31,147.15 L186.56,145.83 L187.82,144.52 L189.08,143.21 L190.33,141.92 L191.59,140.64 L192.85,139.37 L194.11,138.12 L195.36,136.87 L196.62,135.63 L197.88,134.40 L199.13,133.18 L200.39,131.97 L201.65,130.77 L202.91,129.58 L204.16,128.40 L205.42,127.23 L206.68,126.07 L207.94,124.92 L209.19,123.78 L210.45,122.64 L211.71,121.52 L212.96,120.40 L214.22,119.29 L215.48,118.19 L216.74,117.10 L217.99,116.02 L219.25,114.95 L220.51,113.88 L221.77,112.82 L223.02,111.77 L224.28,110.73 L225.54,109.70 L226.79,108.67 L228.05,107.66 L229.31,106.65 L230.57,105.64 L231.82,104.65 L233.08,103.66 L234.34,102.68 L235.60,101.71 L236.85,100.74 L238.11,99.79 L239.37,98.84 L240.62,97.89 L241.88,96.95 L243.14,96.02 L244.40,95.10 L245.65,94.19 L246.91,93.28 L248.17,92.37 L249.42,91.48 L250.68,90.59 L251.94,89.70 L253.20,88.83 L254.45,87.95 L255.71,87.09 L256.97,86.23 L258.23,85.38 L259.48,84.53 L260.74,83.69 L262.00,82.86 L263.25,82.03 L264.51,81.21 L265.77,80.39 L267.03,79.58 L268.28,78.78 L269.54,77.98 L270.80,77.18 L272.06,76.39 L273.31,75.61 L274.57,74.83 L275.83,74.06 L277.08,73.30 L278.34,72.53 L279.60,71.78 L280.86,71.03 L282.11,70.28 L283.37,69.54 L284.63,68.81 L285.88,68.07 L287.14,67.35 L288.40,66.63 L289.66,65.91 L290.91,65.20 L292.17,64.49 L293.43,63.79 L294.69,63.10 L295.94,62.40 L297.20,61.72 L298.46,61.03 L299.71,60.36 L300.97,59.68 L302.23,59.01 L303.49,58.35 L304.74,57.69 L306.00,57.03 L307.26,56.38 L308.52,55.73 L309.77,55.09 L311.03,54.45 L312.29,53.81 L313.54,53.18 L314.80,52.55 L316.06,51.93 L317.32,51.31 L318.57,50.70 L319.83,50.08 L321.09,49.48 L322.34,48.87 L323.60,48.27 L324.86,47.68 L326.12,47.09 L327.37,46.50 L328.63,45.91 L329.89,45.33 L331.15,44.76 L332.40,44.18 L333.66,43.61 L334.92,43.05 L336.17,42.48 L337.43,41.92 L338.69,41.37 L339.95,40.82 L341.20,40.27 L342.46,39.72 L343.72,39.18 L344.98,38.64 L346.23,38.10 L347.49,37.57 L348.75,37.04 L350.00,36.52 L351.26,35.99 L352.52,35.48 L353.78,34.96 L355.03,34.45 L356.29,33.94 L357.55,33.43 L358.81,32.92 L360.06,32.42 L361.32,31.93 L362.58,31.43 L363.83,30.94 L365.09,30.45 L366.35,29.96 L367.61,29.48 L368.86,29.00 L370.12,28.52 L371.38,28.05 L372.63,27.58 L373.89,27.11 L375.15,26.64 L376.41,26.18 L377.66,25.71 L378.92,25.26 L380.18,24.80 L381.44,24.35 L382.69,23.90 L383.95,23.45" fill="none" stroke="#ff0000" stroke-width="0.95"/>
<g stroke="#000" stroke-width="0.8" fill="none">
<path d="M60.5,253.98000000000002 V25"/>
<path d="M60.17,253.65 H381"/>
<path d="M55.7,102.25 H235.05 V406.35"/>
<path d="M55.7,138.45 H193.85 V406.35"/>
<path d="M55.7,174.4 H161.5 V406.35"/>
</g>
<path d="M60.5,22.9 L63.0,27.9 L60.5,26.3 L58.0,27.9 Z" fill="#000"/>
<path d="M383.6,253.65 L378.6,256.15 L380.2,253.65 L378.6,251.15 Z" fill="#000"/>

<!-- glyph strokes (=, minus, fraction bar) -->
<g fill="none"><path d="M266.90,20.15 L276.20,20.15" stroke="#111" stroke-width="0.6"/><path d="M266.90,23.30 L276.20,23.30" stroke="#111" stroke-width="0.6"/><path d="M302.00,21.45 L309.50,21.45" stroke="#111" stroke-width="0.6"/><path d="M316.15,21.40 L345.10,21.40" stroke="#111" stroke-width="0.6"/><path d="M28.60,174.00 L36.90,174.00" stroke="#111" stroke-width="0.7"/><path d="M28.40,101.75 L36.80,101.75" stroke="#111" stroke-width="0.62"/><path d="M32.60,97.45 L32.60,106.05" stroke="#111" stroke-width="0.62"/><path d="M28.20,401.14 L36.50,401.14" stroke="#111" stroke-width="0.62"/></g>
<!-- text -->
<g opacity="0.999" text-rendering="geometricPrecision">
<text transform="translate(42.64,26.53) scale(1.0370,1)" font-size="16.60" font-style="italic">v</text>
<text transform="translate(379.27,246.07) scale(1.3709,1)" font-size="16.41" font-style="italic">f</text>
<text transform="translate(42.21,271.70) scale(1.1041,1)" font-size="16.52" font-style="italic">κ</text>
<text transform="translate(38.33,105.10) scale(1.3802,1)" font-size="13.48" font-style="italic">γ</text>
<text transform="translate(39.20,142.52) scale(1.1099,1)" font-size="13.41">0</text>
<text transform="translate(38.33,177.30) scale(1.3802,1)" font-size="13.48" font-style="italic">γ</text>
<text transform="translate(37.93,298.55) scale(1.0517,1)" font-size="13.46">1.0</text>
<text transform="translate(38.66,352.02) scale(1.0068,1)" font-size="13.46">0.0</text>
<text transform="translate(37.93,405.49) scale(1.0517,1)" font-size="13.46">1.0</text>
<text transform="translate(77.83,419.96) scale(1.0520,1)" font-size="14.44">70</text>
<text transform="translate(128.77,419.96) scale(1.0234,1)" font-size="14.44">80</text>
<text transform="translate(179.46,419.96) scale(1.0124,1)" font-size="14.44">90</text>
<text transform="translate(173.27,445.79) scale(1.0946,1)" font-size="13.08">Frequency [kHz]</text>
<text transform="translate(235.95,24.96) scale(0.9829,1)" font-size="13.72" font-style="italic">v</text>
<text transform="translate(243.24,25.20) scale(0.7083,1)" font-size="14.40">(</text>
<text transform="translate(247.09,24.97) scale(1.1093,1)" font-size="13.13" font-style="italic">ω</text>
<text transform="translate(257.65,25.24) scale(0.7927,1)" font-size="14.56">)</text>
<text transform="translate(280.30,25.60) scale(1.1190,1)" font-size="14.70" font-style="italic">C</text>
<text transform="translate(290.70,26.80) scale(1.1862,1)" font-size="9.39">1</text>
<text transform="translate(327.59,19.70) scale(1.2670,1)" font-size="9.70">1</text>
<text transform="translate(316.36,30.65) scale(1.1237,1)" font-size="9.90" font-style="italic">ω</text>
<text transform="translate(324.06,27.75) scale(1.5111,1)" font-size="7.20">2</text>
<text transform="translate(331.57,30.75) scale(1.2694,1)" font-size="9.85" font-style="italic">L</text>
<text transform="translate(338.52,33.00) scale(1.4667,1)" font-size="8.18">1</text>
<text transform="translate(226.54,419.96) scale(0.9955,1)" font-size="14.44">100</text><text transform="translate(277.05,419.96) scale(1.0216,1)" font-size="14.44">110</text><text transform="translate(327.62,419.96) scale(0.9955,1)" font-size="14.44">120</text>
</g>
</svg>
</body></html>
